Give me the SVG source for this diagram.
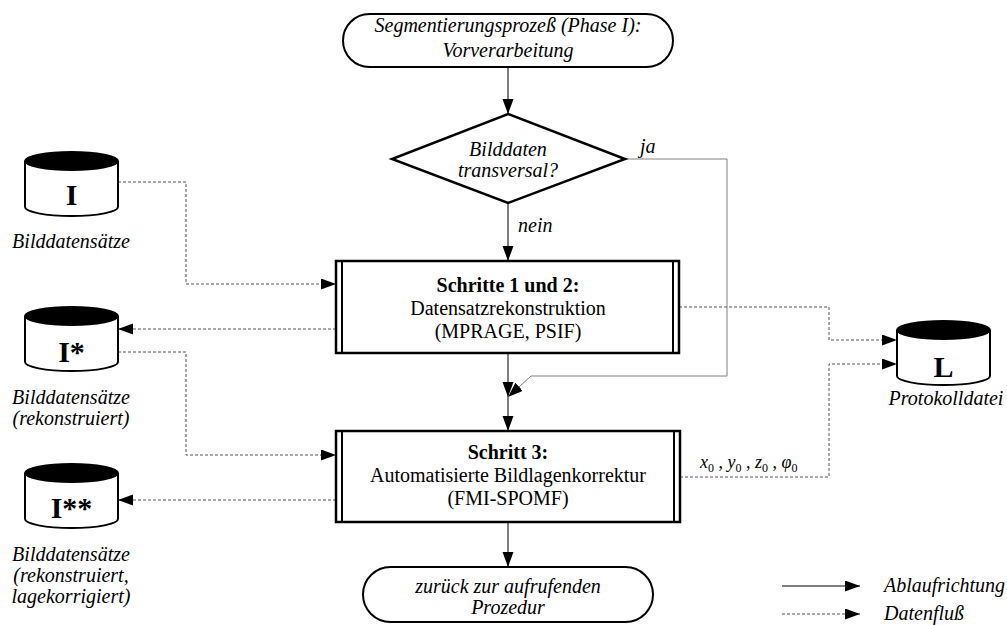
<svg xmlns="http://www.w3.org/2000/svg" width="1007" height="625" viewBox="0 0 1007 625">
  <style>
    text { font-family: "Liberation Serif", "Times New Roman", serif; fill: #000; }
    .it { font-style: italic; font-size: 20px; }
    .rm { font-size: 20px; }
    .bd { font-size: 20px; font-weight: bold; }
    .db { font-size: 30px; font-weight: bold; }
    .term { fill: #fff; stroke: #000; stroke-width: 2; }
    .box { fill: #fff; stroke: #000; stroke-width: 2.5; }
    .inner { stroke: #000; stroke-width: 2; }
    .cyl { fill: #fff; stroke: #000; stroke-width: 2; }
    .cyltop { fill: #000; stroke: #000; stroke-width: 2; }
    .flow { fill: none; stroke: #000; stroke-width: 1; }
    .flowgray { fill: none; stroke: #808080; stroke-width: 1; }
    .data { fill: none; stroke: #555; stroke-width: 1; stroke-dasharray: 3 2; }
  </style>
  <defs>
    <marker id="arrow" markerUnits="userSpaceOnUse" markerWidth="16" markerHeight="12" refX="15" refY="5.5" orient="auto">
      <path d="M0,0 L15,5.5 L0,11 z" fill="#000"/>
    </marker>
  </defs>

  <rect width="1007" height="625" fill="#fff"/>

  <!-- connectors -->
  <g id="connectors">
    <!-- control flow -->
    <path class="flow" d="M508,67 V114" marker-end="url(#arrow)"/>
    <path class="flow" d="M508,203 V261" marker-end="url(#arrow)"/>
    <path class="flow" d="M508,353 V397" marker-end="url(#arrow)"/>
    <path class="flow" d="M508,397 V431" marker-end="url(#arrow)"/>
    <path class="flow" d="M508,522 V567" marker-end="url(#arrow)"/>
    <path class="flowgray" d="M625,159 H727 V376 H531 L508,397" marker-end="url(#arrow)"/>
    <!-- data flow -->
    <path class="data" d="M118,182 H186 V284 H336" marker-end="url(#arrow)"/>
    <path class="data" d="M336,329 H118" marker-end="url(#arrow)"/>
    <path class="data" d="M118,352 H186 V455 H336" marker-end="url(#arrow)"/>
    <path class="data" d="M336,500 H118" marker-end="url(#arrow)"/>
    <path class="data" d="M679,307 H829 V340 H897" marker-end="url(#arrow)"/>
    <path class="data" d="M680,477 H829 V364 H897" marker-end="url(#arrow)"/>
    <!-- branch labels -->
    <text class="it" x="640" y="153">ja</text>
    <text class="it" x="518" y="232">nein</text>
    <text x="700" y="468" font-size="18"><tspan font-style="italic">x</tspan><tspan font-size="12" dy="4">0</tspan><tspan dy="-4"> , </tspan><tspan font-style="italic">y</tspan><tspan font-size="12" dy="4">0</tspan><tspan dy="-4"> , </tspan><tspan font-style="italic">z</tspan><tspan font-size="12" dy="4">0</tspan><tspan dy="-4"> , </tspan><tspan font-style="italic">φ</tspan><tspan font-size="12" dy="4">0</tspan></text>
  </g>

  <!-- start terminal -->
  <g id="start">
    <rect class="term" x="343" y="14" width="330" height="53" rx="26.5" ry="26.5"/>
    <text class="it" x="508" y="32" text-anchor="middle">Segmentierungsprozeß (Phase I):</text>
    <text class="it" x="508" y="57" text-anchor="middle">Vorverarbeitung</text>
  </g>

  <!-- decision -->
  <g id="decision">
    <polygon points="508,114 625,159 508,203 392,159" fill="#fff" stroke="#000" stroke-width="2.5"/>
    <text class="it" x="508" y="156" text-anchor="middle">Bilddaten</text>
    <text class="it" x="508" y="177" text-anchor="middle">transversal?</text>
  </g>

  <!-- step 1 and 2 -->
  <g id="step12">
    <rect class="box" x="336" y="261" width="343" height="92"/>
    <line class="inner" x1="342" y1="261" x2="342" y2="353"/>
    <line class="inner" x1="673" y1="261" x2="673" y2="353"/>
    <text class="bd" x="508" y="292" text-anchor="middle">Schritte 1 und 2:</text>
    <text class="rm" x="508" y="315" text-anchor="middle">Datensatzrekonstruktion</text>
    <text class="rm" x="508" y="338" text-anchor="middle">(MPRAGE, PSIF)</text>
  </g>

  <!-- step 3 -->
  <g id="step3">
    <rect class="box" x="336" y="431" width="344" height="91"/>
    <line class="inner" x1="342" y1="431" x2="342" y2="522"/>
    <line class="inner" x1="674" y1="431" x2="674" y2="522"/>
    <text class="bd" x="508" y="459" text-anchor="middle">Schritt 3:</text>
    <text class="rm" x="508" y="482" text-anchor="middle">Automatisierte Bildlagenkorrektur</text>
    <text class="rm" x="508" y="505" text-anchor="middle">(FMI-SPOMF)</text>
  </g>

  <!-- end terminal -->
  <g id="end">
    <rect class="term" x="363" y="567" width="290" height="55" rx="27.5" ry="27.5"/>
    <text class="it" x="508" y="593" text-anchor="middle">zurück zur aufrufenden</text>
    <text class="it" x="508" y="614" text-anchor="middle">Prozedur</text>
  </g>

  <!-- data store I -->
  <g id="storeI">
    <path class="cyl" d="M25,161 V207 A46.5,9 0 0 0 118,207 V161"/>
    <ellipse class="cyltop" cx="71.5" cy="161" rx="46.5" ry="9"/>
    <text class="db" x="71.5" y="205" text-anchor="middle">I</text>
    <text class="it" x="71" y="248" text-anchor="middle">Bilddatensätze</text>
  </g>

  <!-- data store I* -->
  <g id="storeIstar">
    <path class="cyl" d="M25,316 V362 A46.5,9 0 0 0 118,362 V316"/>
    <ellipse class="cyltop" cx="71.5" cy="316" rx="46.5" ry="9"/>
    <text class="db" x="71.5" y="362" text-anchor="middle">I*</text>
    <text class="it" x="71" y="404" text-anchor="middle">Bilddatensätze</text>
    <text class="it" x="71" y="425" text-anchor="middle">(rekonstruiert)</text>
  </g>

  <!-- data store I** -->
  <g id="storeIstarstar">
    <path class="cyl" d="M25,473 V519 A46.5,9 0 0 0 118,519 V473"/>
    <ellipse class="cyltop" cx="71.5" cy="473" rx="46.5" ry="9"/>
    <text class="db" x="71.5" y="518" text-anchor="middle">I**</text>
    <text class="it" x="71" y="561" text-anchor="middle">Bilddatensätze</text>
    <text class="it" x="71" y="582" text-anchor="middle">(rekonstruiert,</text>
    <text class="it" x="71" y="603" text-anchor="middle">lagekorrigiert)</text>
  </g>

  <!-- log file L -->
  <g id="storeL">
    <path class="cyl" d="M897,330 V376 A46.5,9 0 0 0 990,376 V330"/>
    <ellipse class="cyltop" cx="943.5" cy="330" rx="46.5" ry="9"/>
    <text class="db" x="943.5" y="377" text-anchor="middle">L</text>
    <text class="it" x="946" y="405" text-anchor="middle">Protokolldatei</text>
  </g>

  <!-- legend -->
  <g id="legend">
    <path class="flow" d="M782,586 H860" marker-end="url(#arrow)"/>
    <text class="it" x="884" y="592">Ablaufrichtung</text>
    <path class="data" d="M782,614 H860" marker-end="url(#arrow)"/>
    <text class="it" x="884" y="620">Datenfluß</text>
  </g>
</svg>
